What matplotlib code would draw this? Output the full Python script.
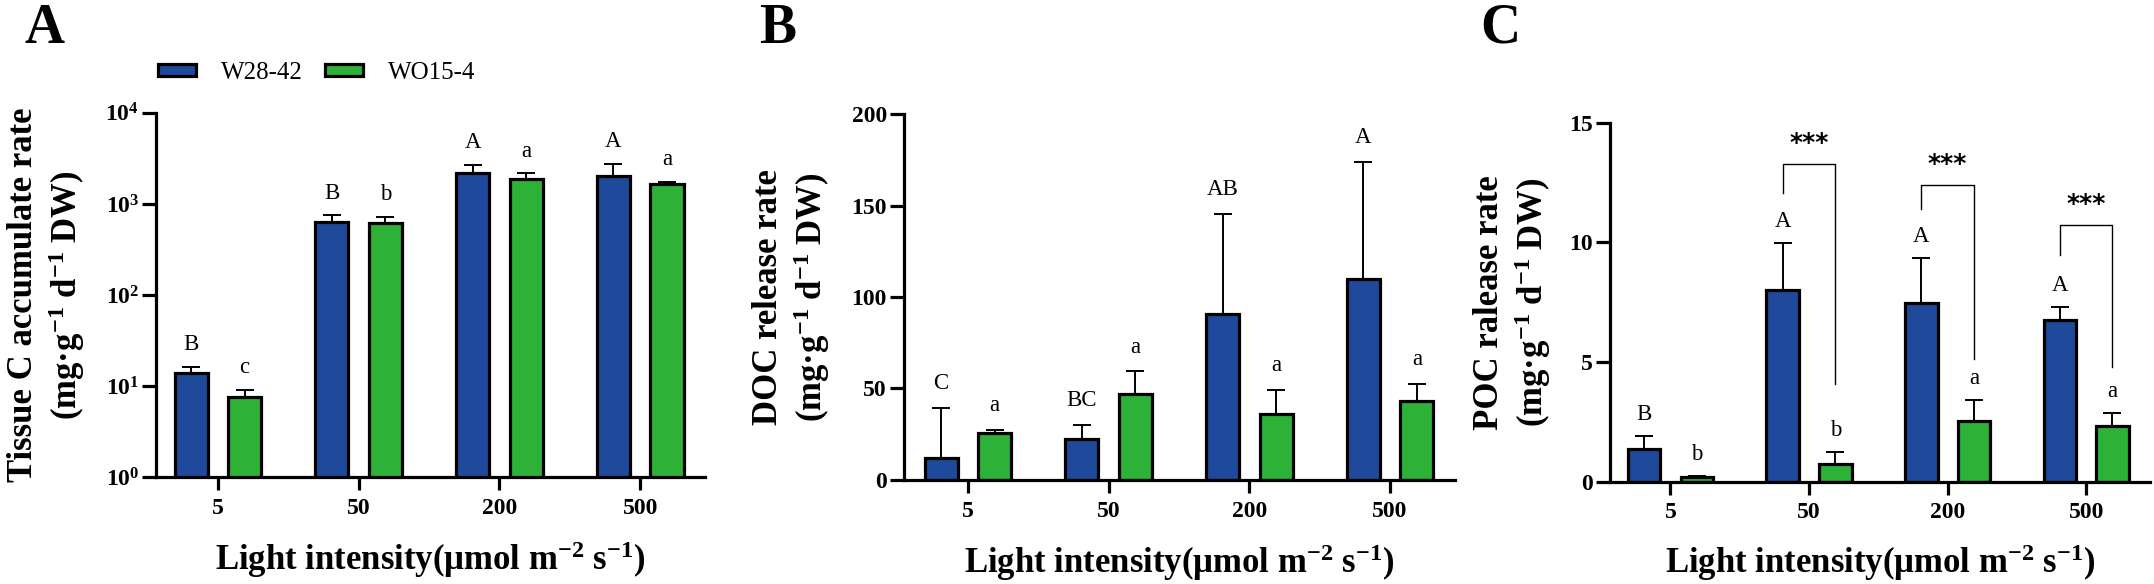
import numpy as np
import matplotlib
matplotlib.use("Agg")
import matplotlib.pyplot as plt
from matplotlib.patches import Patch

plt.rcParams['font.family'] = ['Liberation Serif', 'DejaVu Serif']
plt.rcParams['font.weight'] = 'bold'
plt.rcParams['axes.labelweight'] = 'bold'
plt.rcParams['mathtext.default'] = 'regular'

# ---- data ----
light = ['5', '50', '200', '500']
lines = ['W28-42', 'WO15-4']

tissue_w28 = [14, 641, 2168, 2027]
tissue_w28_sd = [2.4, 112, 522, 733]
tissue_wo15 = [7.7, 624, 1860, 1663]
tissue_wo15_sd = [1.5, 101, 310, 77]
tissue_let_w28 = ['B', 'B', 'A', 'A']
tissue_let_wo15 = ['c', 'b', 'a', 'a']

doc_w28 = [11.7, 22.3, 90.9, 109.7]
doc_w28_sd = [27.6, 7.6, 54.5, 64.2]
doc_wo15 = [25.6, 46.8, 36.2, 43.0]
doc_wo15_sd = [1.8, 12.5, 12.8, 9.5]
doc_let_w28 = ['C', 'BC', 'AB', 'A']
doc_let_wo15 = ['a', 'a', 'a', 'a']

poc_w28 = [1.37, 8.02, 7.45, 6.75]
poc_w28_sd = [0.55, 1.97, 1.91, 0.54]
poc_wo15 = [0.2, 0.75, 2.54, 2.31]
poc_wo15_sd = [0.05, 0.5, 0.86, 0.54]
poc_let_w28 = ['B', 'A', 'A', 'A']
poc_let_wo15 = ['b', 'b', 'a', 'a']

# significance brackets in panel C: group index, top, left leg end, right leg end, star y
sig_group = [1, 2, 3]
sig_top = [13.29, 12.40, 10.72]
sig_left = [12.05, 11.38, 9.47]
sig_right = [4.1, 5.11, 4.8]
sig_star = [14.15, 13.3, 11.6]

BLUE = '#1f4a9b'
GREEN = '#2db137'
W = 0.235
OFF = 0.19
x = np.arange(len(light))


def panel(ax, a, a_sd, b, b_sd, la, lb, txt_off):
    for vals, sd, col, sgn, lets in [(a, a_sd, BLUE, -1, la), (b, b_sd, GREEN, 1, lb)]:
        xs = x + sgn * OFF
        ax.bar(xs, vals, W, color=col, edgecolor='black', linewidth=2.3, zorder=2)
        ax.errorbar(xs, vals, yerr=[np.zeros(len(vals)), sd], fmt='none', ecolor='black',
                    elinewidth=1.4, capsize=6.5, capthick=1.4, zorder=1)
        for xi, v, s, t in zip(xs, vals, sd, lets):
            ax.annotate(t, (xi, v + s), xytext=(0, txt_off), textcoords='offset points',
                        ha='center', va='baseline', fontsize=16.5, fontweight='normal')
    for sp in ['top', 'right']:
        ax.spines[sp].set_visible(False)
    for sp in ['left', 'bottom']:
        ax.spines[sp].set_linewidth(2.3)
    ax.set_xticks(x)
    ax.set_xticklabels(light)
    ax.tick_params(axis='both', width=2.3, labelsize=17)
    ax.tick_params(axis='x', length=9, pad=6)
    ax.tick_params(axis='y', length=10, pad=2)
    ax.minorticks_off()


fig = plt.figure(figsize=(21.54, 5.84), dpi=100)

axA = fig.add_axes([0.0724, 0.1824, 0.2549, 0.6245])
axA.set_yscale('log')
panel(axA, tissue_w28, tissue_w28_sd, tissue_wo15, tissue_wo15_sd, tissue_let_w28, tissue_let_wo15, 12)
axA.set_ylim(1, 1e4)
axA.set_yticks([1, 10, 100, 1000, 10000])
axA.set_yticklabels(['$10^{0}$', '$10^{1}$', '$10^{2}$', '$10^{3}$', '$10^{4}$'])
axA.minorticks_off()
axA.set_xlim(-0.44, 3.46)
axA.set_ylabel('Tissue C accumulate rate\n(mg·g$^{-1}$ d$^{-1}$ DW)', fontsize=25, fontweight='bold')
axA.yaxis.set_label_coords(-0.126, 0.5)

axB = fig.add_axes([0.4195, 0.1786, 0.2559, 0.6257])
panel(axB, doc_w28, doc_w28_sd, doc_wo15, doc_wo15_sd, doc_let_w28, doc_let_wo15, 13.5)
axB.set_ylim(0, 200)
axB.set_yticks([0, 50, 100, 150, 200])
axB.set_xlim(-0.457, 3.46)
axB.set_ylabel('DOC release rate\n(mg·g$^{-1}$ d$^{-1}$ DW)', fontsize=25, fontweight='bold')
axB.yaxis.set_label_coords(-0.130, 0.5)

axC = fig.add_axes([0.7474, 0.1753, 0.2507, 0.6143])
panel(axC, poc_w28, poc_w28_sd, poc_wo15, poc_wo15_sd, poc_let_w28, poc_let_wo15, 11.5)
axC.set_ylim(0, 15)
axC.set_yticks([0, 5, 10, 15])
axC.set_xlim(-0.437, 3.46)
axC.set_ylabel('POC ralease rate\n(mg·g$^{-1}$ d$^{-1}$ DW)', fontsize=25, fontweight='bold')
axC.yaxis.set_label_coords(-0.106, 0.5)
for g, top, lb, rb, sy in zip(sig_group, sig_top, sig_left, sig_right, sig_star):
    xl, xr = g - OFF, g + OFF
    axC.plot([xl, xl, xr, xr], [lb, top, top, rb], color='black', lw=1.0)
    axC.text(g, sy, '***', ha='center', va='center', fontsize=18,
             family='DejaVu Sans', fontweight='bold')

for ax in (axA, axB, axC):
    ax.set_xlabel('Light intensity(μmol m$^{-2}$ s$^{-1}$)', fontsize=25, fontweight='bold')
    ax.xaxis.set_label_coords(0.5, -0.17)

for lab, xp in zip(['A', 'B', 'C'], [0.0116, 0.3524, 0.687]):
    fig.text(xp, 0.927, lab, fontsize=40, fontweight='bold', ha='left', va='baseline')

handles = [Patch(facecolor=BLUE, edgecolor='black', linewidth=2.3),
           Patch(facecolor=GREEN, edgecolor='black', linewidth=2.3)]
fig.legend(handles, lines, loc='center left', bbox_to_anchor=(0.0735, 0.875), ncol=2,
           frameon=False, borderpad=0, borderaxespad=0, handlelength=1.5, handleheight=0.4,
           handletextpad=1.0, columnspacing=0.9, prop={'size': 18, 'weight': 'normal'})

fig.savefig('out.png', dpi=100)
